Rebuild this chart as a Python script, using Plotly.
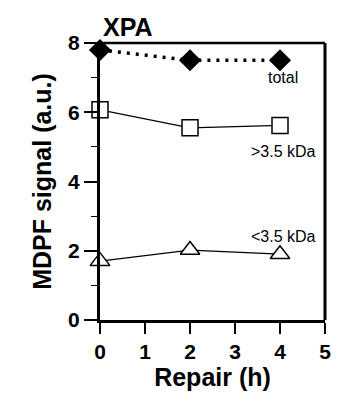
import plotly.graph_objects as go

hours = [0, 2, 4]
total = [7.8, 7.5, 7.5]
large = [6.07, 5.55, 5.62]
small = [1.7, 2.02, 1.9]

x_ticks = [0, 1, 2, 3, 4, 5]
y_ticks = [0, 2, 4, 6, 8]

FONT = "Liberation Sans, Arial, Helvetica, sans-serif"

fig = go.Figure()
fig.add_trace(go.Scatter(x=hours, y=large, mode="lines+markers",
                         line=dict(color="black", width=1.2),
                         marker=dict(symbol="square", size=16, color="white",
                                     line=dict(color="black", width=1.5)),
                         cliponaxis=False))
fig.add_trace(go.Scatter(x=hours, y=small, mode="lines+markers",
                         line=dict(color="black", width=1.2),
                         marker=dict(symbol="triangle-up", size=17, color="white",
                                     line=dict(color="black", width=1.5)),
                         cliponaxis=False))
fig.add_trace(go.Scatter(x=hours, y=total, mode="lines+markers",
                         line=dict(color="black", width=3.5, dash="3px,6px"),
                         marker=dict(symbol="diamond", size=17, color="black"),
                         cliponaxis=False))

for txt, xx, yy in [("total", 4.06, 7.0), (">3.5 kDa", 4.08, 4.86), ("<3.5 kDa", 4.08, 2.42)]:
    fig.add_annotation(x=xx, y=yy, text=txt, showarrow=False,
                       font=dict(family=FONT, size=16, color="black"))

fig.add_annotation(x=0.62, y=8.0, xref="x", yref="y", yanchor="bottom", yshift=0,
                   text="<b>XPA</b>", showarrow=False,
                   font=dict(family=FONT, size=25, color="black"))

# top and right frame lines
fig.add_shape(type="line", xref="x domain", yref="y domain", x0=0, x1=1, y0=1, y1=1,
              line=dict(color="black", width=2.5))
fig.add_shape(type="line", xref="x domain", yref="y domain", x0=1, x1=1, y0=0, y1=1,
              line=dict(color="black", width=3))

fig.update_xaxes(range=[0, 5], tickvals=x_ticks, ticktext=[f"<b>{v}</b>" for v in x_ticks],
                 showline=True, linecolor="black", linewidth=3, ticks="outside",
                 ticklen=11, tickwidth=1.5, tickcolor="black", showgrid=False, zeroline=False,
                 tickfont=dict(family=FONT, size=21, color="black"),
                 title=dict(text="<b>Repair (h)</b>", font=dict(family=FONT, size=25, color="black"),
                            standoff=4))
fig.update_yaxes(range=[0, 8], tickvals=y_ticks, ticktext=[f"<b>{v}</b>" for v in y_ticks],
                 showline=True, linecolor="black", linewidth=3, ticks="outside",
                 ticklen=13, tickwidth=1.5, tickcolor="black", showgrid=False, zeroline=False,
                 minor=dict(tickvals=[1, 3, 5, 7], ticks="outside", ticklen=6,
                            tickwidth=1, tickcolor="black"),
                 tickfont=dict(family=FONT, size=21, color="black"),
                 title=dict(text="<b>MDPF signal (a.u.)</b>",
                            font=dict(family=FONT, size=25, color="black"), standoff=10))

fig.update_layout(width=339, height=393, showlegend=False,
                  margin=dict(l=100, r=8, t=43, b=72),
                  plot_bgcolor="white", paper_bgcolor="white")

fig.write_html("out.html", config={"displayModeBar": False},
               post_script="document.body.style.margin='0px';")
